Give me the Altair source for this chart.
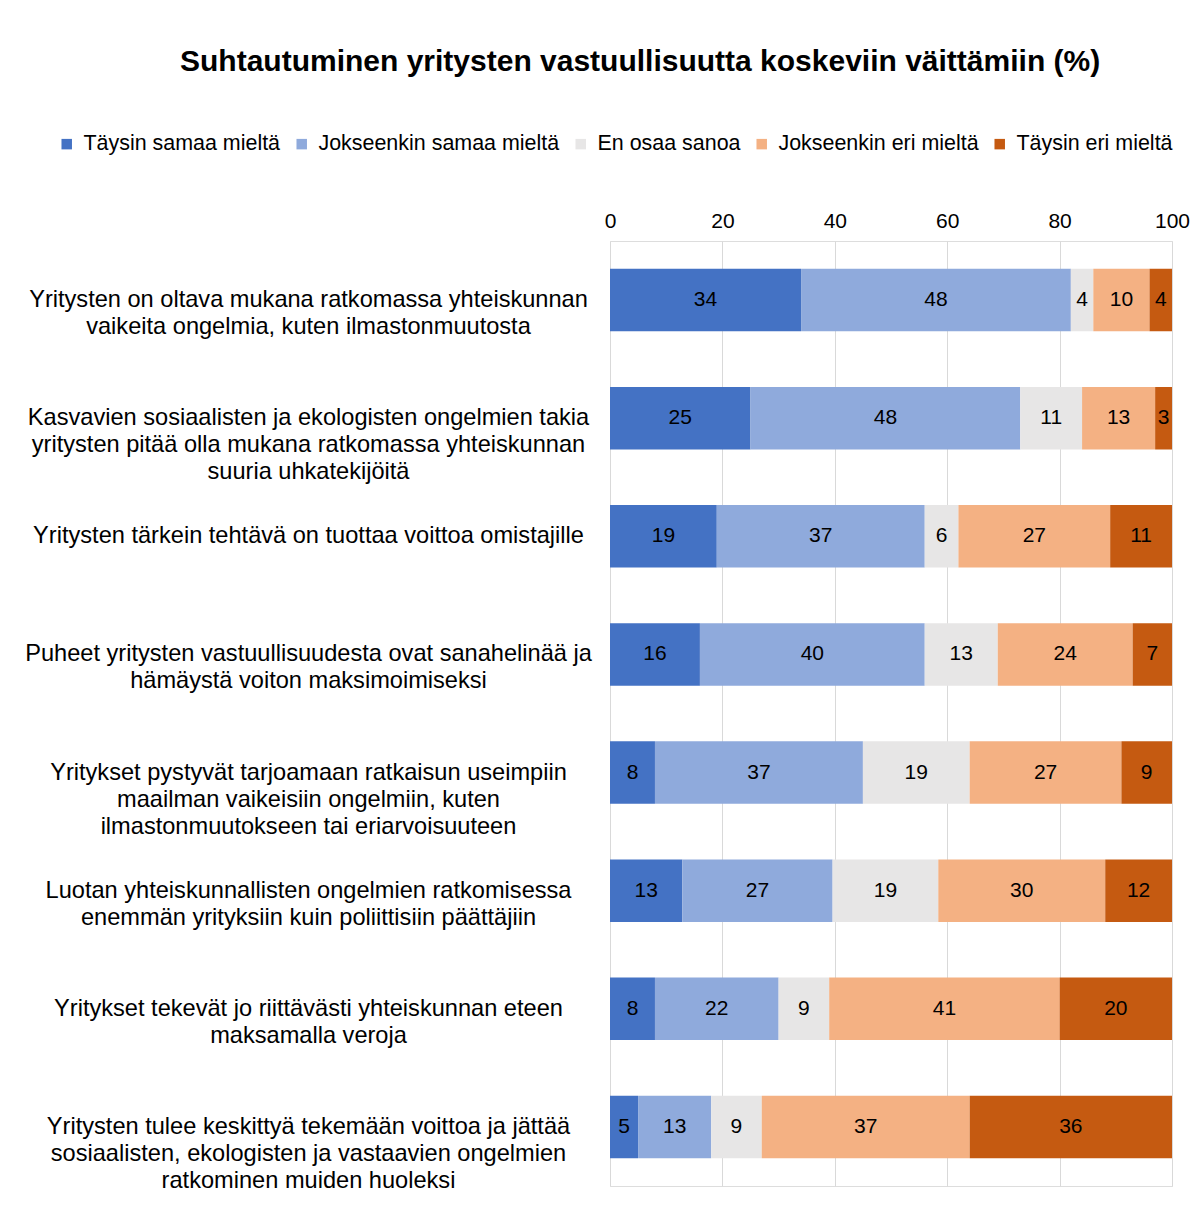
import altair as alt
import pandas as pd

statements = [
    "Yritysten on oltava mukana ratkomassa yhteiskunnan|vaikeita ongelmia, kuten ilmastonmuutosta",
    "Kasvavien sosiaalisten ja ekologisten ongelmien takia|yritysten pitää olla mukana ratkomassa yhteiskunnan|suuria uhkatekijöitä",
    "Yritysten tärkein tehtävä on tuottaa voittoa omistajille",
    "Puheet yritysten vastuullisuudesta ovat sanahelinää ja|hämäystä voiton maksimoimiseksi",
    "Yritykset pystyvät tarjoamaan ratkaisun useimpiin|maailman vaikeisiin ongelmiin, kuten|ilmastonmuutokseen tai eriarvoisuuteen",
    "Luotan yhteiskunnallisten ongelmien ratkomisessa|enemmän yrityksiin kuin poliittisiin päättäjiin",
    "Yritykset tekevät jo riittävästi yhteiskunnan eteen|maksamalla veroja",
    "Yritysten tulee keskittyä tekemään voittoa ja jättää|sosiaalisten, ekologisten ja vastaavien ongelmien|ratkominen muiden huoleksi",
]

categories = [
    "Täysin samaa mieltä",
    "Jokseenkin samaa mieltä",
    "En osaa sanoa",
    "Jokseenkin eri mieltä",
    "Täysin eri mieltä",
]

colors = ["#4472C4", "#8FAADC", "#E7E6E6", "#F4B183", "#C55A11"]

taysin_samaa = [34, 25, 19, 16, 8, 13, 8, 5]
jokseenkin_samaa = [48, 48, 37, 40, 37, 27, 22, 13]
en_osaa = [4, 11, 6, 13, 19, 19, 9, 9]
jokseenkin_eri = [10, 13, 27, 24, 27, 30, 41, 37]
taysin_eri = [4, 3, 11, 7, 9, 12, 20, 36]

series = [taysin_samaa, jokseenkin_samaa, en_osaa, jokseenkin_eri, taysin_eri]

rows = []
for ci, (cat, vals) in enumerate(zip(categories, series)):
    for si, st in enumerate(statements):
        rows.append({"statement": st, "category": cat, "order": ci, "value": vals[si]})
df = pd.DataFrame(rows)

FONT = "Liberation Sans"

base = alt.Chart(df).transform_stack(
    stack="value",
    groupby=["statement"],
    as_=["x0", "x1"],
    sort=[alt.SortField("order", order="ascending")],
    offset="normalize",
).transform_calculate(mid="(datum.x0 + datum.x1) / 2")

y_enc = alt.Y(
    "statement:N",
    sort=statements,
    title=None,
    scale=alt.Scale(paddingInner=0.47, paddingOuter=0.235),
    axis=alt.Axis(
        labelExpr="split(datum.label, '|')",
        labelAlign="center",
        labelBaseline="middle",
        labelPadding=302,
        labelFont=FONT,
        labelFontSize=23.6,
        labelColor="#000000",
        labelLineHeight=27,
        labelLimit=0,
        ticks=False,
        domain=False,
        grid=False,
    ),
)

bars = base.mark_bar().encode(
    y=y_enc,
    x=alt.X(
        "x0:Q",
        title=None,
        scale=alt.Scale(domain=[0, 1]),
        axis=alt.Axis(
            orient="top",
            values=[0, 0.2, 0.4, 0.6, 0.8, 1.0],
            labelExpr="format(datum.value * 100, 'd')",
            labelFont=FONT,
            labelFontSize=21,
            labelColor="#000000",
            labelPadding=10,
            ticks=False,
            domain=False,
            grid=True,
            gridColor="#D9D9D9",
            gridWidth=1,
            labelFlush=False,
        ),
    ),
    x2="x1:Q",
    color=alt.Color(
        "category:N",
        sort=categories,
        scale=alt.Scale(domain=categories, range=colors),
        legend=alt.Legend(
            title=None,
            orient="none",
            legendX=-554,
            legendY=-108,
            direction="horizontal",
            symbolType="square",
            symbolSize=110,
            symbolStrokeWidth=0,
            labelFont=FONT,
            labelFontSize=21.45,
            labelColor="#000000",
            labelOffset=6,
            columnPadding=10,
            labelLimit=0,
        ),
    ),
    order=alt.Order("order:Q"),
)

texts = base.mark_text(font=FONT, fontSize=21, color="#000000", baseline="middle", align="center").encode(
    y=alt.Y("statement:N", sort=statements),
    x=alt.X("mid:Q"),
    text=alt.Text("value:Q"),
)

chart = (
    alt.layer(bars, texts)
    .properties(
        width=562,
        height=945,
        padding={"left": 16, "top": 39, "right": 0, "bottom": 10},
        title=alt.TitleParams(
            "Suhtautuminen yritysten  vastuullisuutta koskeviin väittämiin (%)",
            font=FONT,
            fontSize=30,
            fontWeight="bold",
            color="#000000",
            anchor="middle",
            frame="bounds",
            dx=33,
            offset=56,
        ),
    )
    .configure_view(stroke=None)
    .configure(background="#FFFFFF")
)

chart.save("out.html", embed_options={"renderer": "svg", "actions": False})
